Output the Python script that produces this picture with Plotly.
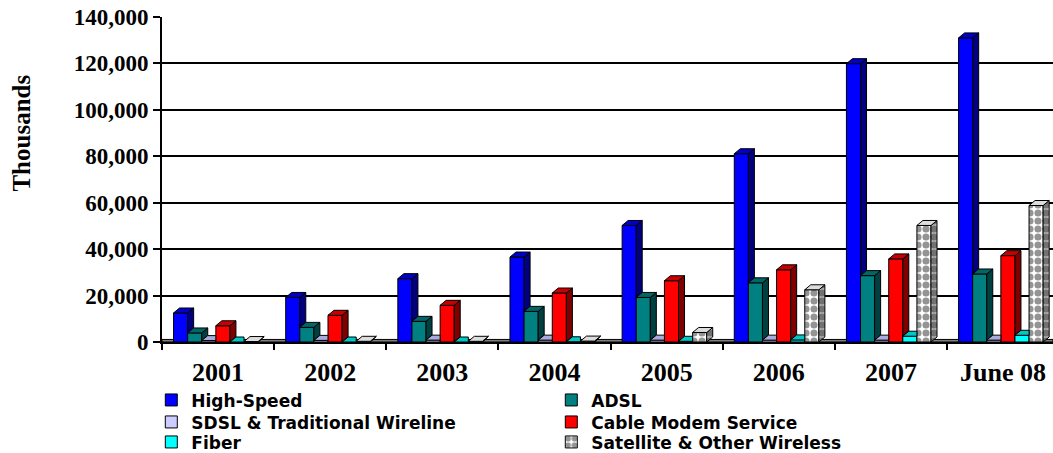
import plotly.graph_objects as go

# Broadband lines by technology (thousands)
years = ["2001", "2002", "2003", "2004", "2005", "2006", "2007", "June 08"]
high_speed = [12500, 19200, 27300, 36600, 50200, 81100, 119900, 131000]
adsl = [3900, 6300, 8900, 13200, 19200, 25500, 28600, 29300]
sdsl_wireline = [600, 700, 800, 800, 800, 800, 800, 800]
cable_modem = [7000, 11500, 15800, 21100, 26400, 31100, 35800, 37200]
fiber = [0, 0, 0, 100, 300, 900, 2500, 2900]
satellite_wireless = [200, 300, 300, 400, 4100, 22500, 50200, 58800]

y_ticks = [0, 20000, 40000, 60000, 80000, 100000, 120000, 140000]

CHECKER = dict(shape=".", fgcolor="#2A2A2A", bgcolor="white", size=8, solidity=0.62)

series = [
    # name, values, front, side, top, pattern, legend row
    ("High-Speed", high_speed, "#0000FF", "#000080", "#0000C8", None, "legend"),
    ("ADSL", adsl, "#008080", "#004040", "#006666", None, "legend"),
    ("SDSL & Traditional Wireline", sdsl_wireline, "#CCCCFF", "#8888AA", "#AAAADD", None, "legend2"),
    ("Cable Modem Service", cable_modem, "#FF0000", "#800000", "#C80000", None, "legend2"),
    ("Fiber", fiber, "#00FFFF", "#008080", "#00C8C8", None, "legend3"),
    ("Satellite & Other Wireless", satellite_wireless, "white", "#BBBBBB", "#DDDDDD", CHECKER, "legend3"),
]

# bar geometry, in axis units (one category = 1.0)
BAR_W = 0.1257
FIRST_OFFSET = -0.397
DEPTH_X = 0.0535
DEPTH_Y = 2150

positions = list(range(len(years)))
fig = go.Figure()

# front faces
for i, (name, vals, front, side, top, pat, leg) in enumerate(series):
    marker = dict(color=front, line=dict(color="black", width=1))
    if pat:
        marker["pattern"] = pat
    fig.add_trace(go.Bar(
        x=positions, y=vals, name=name, width=BAR_W, legend=leg,
        offset=FIRST_OFFSET + i * BAR_W, marker=marker, hoverinfo="skip",
    ))

# side and top faces for the 3-D look, hidden where the neighbouring bar covers them
for i, (name, vals, front, side, top, pat, leg) in enumerate(series):
    sx, sy, tx, ty = [], [], [], []
    nxt = series[i + 1][1] if i + 1 < len(series) else [0] * len(years)
    for j, v in enumerate(vals):
        xl = positions[j] + FIRST_OFFSET + i * BAR_W
        xr = xl + BAR_W
        vn = nxt[j]
        if v > vn:
            sx += [xr, xr + DEPTH_X, xr + DEPTH_X, xr, xr, None]
            sy += [vn, vn + DEPTH_Y, v + DEPTH_Y, v, vn, None]
            tx += [xl, xl + DEPTH_X, xr + DEPTH_X, xr, xl, None]
            ty += [v, v + DEPTH_Y, v + DEPTH_Y, v, v, None]
        else:
            tx += [xl, xl + DEPTH_X, xr, xr, xl, None]
            ty += [v, v + DEPTH_Y, v + DEPTH_Y, v, v, None]
    side_kw = dict(fillpattern=dict(pat, bgcolor="#BBBBBB")) if pat else {}
    fig.add_trace(go.Scatter(
        x=sx, y=sy, mode="lines", fill="toself", fillcolor=side,
        line=dict(color="black", width=1), showlegend=False, hoverinfo="skip", **side_kw,
    ))
    fig.add_trace(go.Scatter(
        x=tx, y=ty, mode="lines", fill="toself", fillcolor=top,
        line=dict(color="black", width=1), showlegend=False, hoverinfo="skip",
    ))

serif_bold = dict(family="Liberation Serif", color="black", weight="bold")
legend_font = dict(family="DejaVu Sans", size=17, color="black", weight="bold")


def legend_row(y):
    return dict(
        orientation="h", x=-0.012, y=y, xanchor="left", yanchor="middle",
        entrywidth=355, entrywidthmode="pixels", font=legend_font,
        bgcolor="rgba(0,0,0,0)", traceorder="normal", borderwidth=0,
    )


# legend rows sit below the plot area (paper units; plot height = 325 px)
fig.update_layout(
    width=1053, height=453,
    margin=dict(l=162, r=0, t=17, b=111, autoexpand=False),
    plot_bgcolor="white", paper_bgcolor="white",
    barmode="overlay",
    showlegend=True,
    legend=legend_row(-58.4 / 325),
    legend2=legend_row(-80.4 / 325),
    legend3=legend_row(-100.4 / 325),
    xaxis=dict(
        range=[-0.5, 7.445], tickmode="array", tickvals=positions, ticktext=years,
        ticks="", showgrid=False, zeroline=False,
        showline=True, linecolor="black", linewidth=2,
        tickfont=dict(size=26, **serif_bold), ticklabelstandoff=6,
        minor=dict(tickmode="array", tickvals=[p - 0.5 for p in positions] + [7.5],
                   ticks="outside", ticklen=6, tickwidth=1.5, tickcolor="black", showgrid=False),
    ),
    yaxis=dict(
        range=[0, 140000], tickmode="array", tickvals=y_ticks, tickformat=",",
        ticks="outside", ticklen=7, tickwidth=1.5, tickcolor="black",
        showgrid=True, gridcolor="black", gridwidth=1.5, zeroline=False,
        showline=True, linecolor="black", linewidth=2,
        tickfont=dict(size=23, **serif_bold),
    ),
    shapes=[dict(type="rect", xref="paper", yref="y", x0=0, x1=1, y0=0, y1=1100,
                 fillcolor="#808080", line=dict(color="black", width=1), layer="below")],
    annotations=[dict(text="Thousands", xref="paper", yref="paper", x=-0.158, y=0.642,
                      textangle=-90, showarrow=False, xanchor="center", yanchor="middle",
                      font=dict(size=25, **serif_bold))],
)

fig.write_html("out.html")
